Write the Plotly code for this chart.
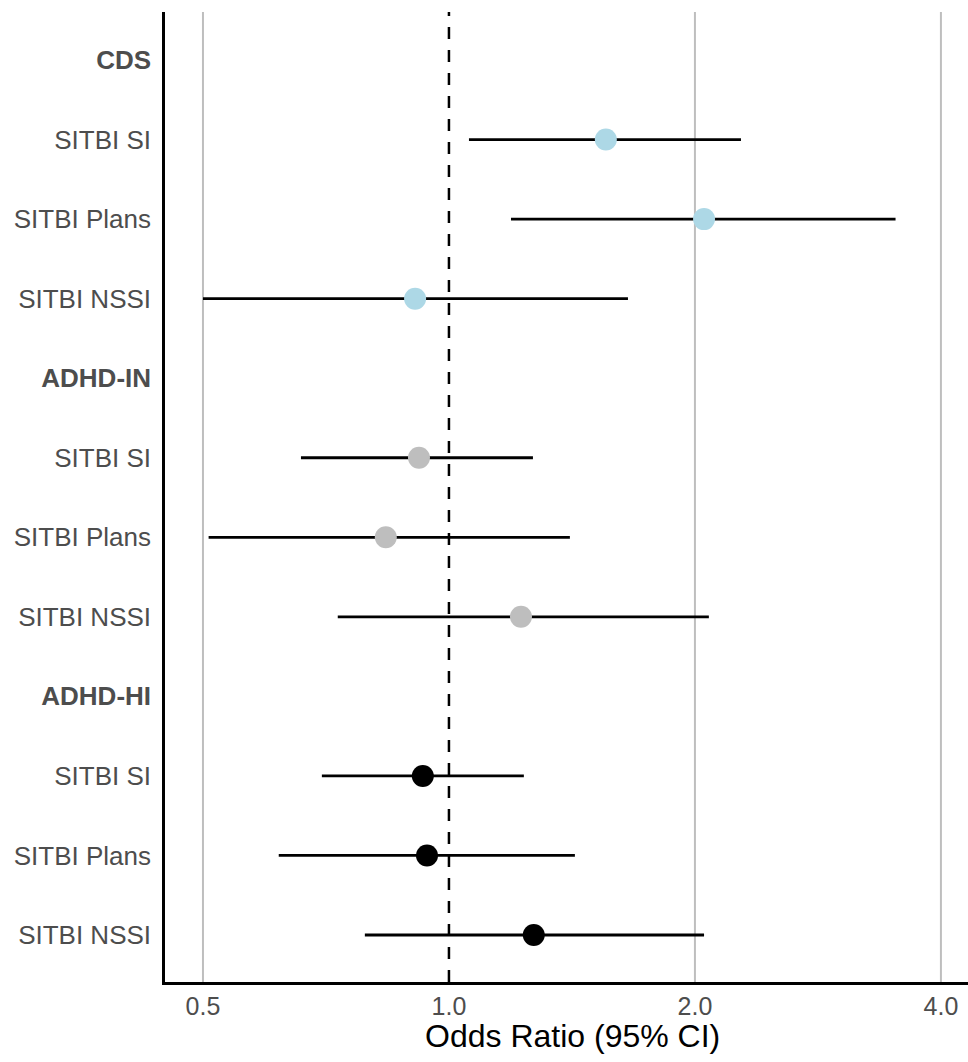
import plotly.graph_objects as go

# Data
labels = ["CDS", "SITBI SI", "SITBI Plans", "SITBI NSSI",
          "ADHD-IN", "SITBI SI", "SITBI Plans", "SITBI NSSI",
          "ADHD-HI", "SITBI SI", "SITBI Plans", "SITBI NSSI"]
is_header = [True, False, False, False, True, False, False, False, True, False, False, False]

groups = ["CDS", "ADHD-IN", "ADHD-HI"]
outcomes = ["SITBI SI", "SITBI Plans", "SITBI NSSI"]
odds_ratio = {
    "CDS":     [1.556, 2.052, 0.909],
    "ADHD-IN": [0.919, 0.837, 1.225],
    "ADHD-HI": [0.929, 0.940, 1.270],
}
ci_lower = {
    "CDS":     [1.058, 1.191, 0.500],
    "ADHD-IN": [0.659, 0.508, 0.731],
    "ADHD-HI": [0.699, 0.619, 0.789],
}
ci_upper = {
    "CDS":     [2.277, 3.520, 1.656],
    "ADHD-IN": [1.267, 1.406, 2.080],
    "ADHD-HI": [1.235, 1.426, 2.052],
}
colors = {"CDS": "#ADD8E6", "ADHD-IN": "#BEBEBE", "ADHD-HI": "#000000"}

x_ticks = [0.5, 1.0, 2.0, 4.0]
x_ticktext = ["0.5", "1.0", "2.0", "4.0"]
x_title = "Odds Ratio (95% CI)"

n = len(labels)
ypos = list(range(n, 0, -1))  # top row = n
ticktext = [f"<b>{l}</b>" if h else l for l, h in zip(labels, is_header)]

fig = go.Figure()

# CI lines
for gi, g in enumerate(groups):
    xs, ys = [], []
    for oi, o in enumerate(outcomes):
        row = gi * 4 + 1 + oi
        y = ypos[row]
        xs += [ci_lower[g][oi], ci_upper[g][oi], None]
        ys += [y, y, None]
    fig.add_trace(go.Scatter(x=xs, y=ys, mode="lines",
                             line=dict(color="black", width=2.8),
                             showlegend=False, hoverinfo="skip"))

# Points
for gi, g in enumerate(groups):
    ys = [ypos[gi * 4 + 1 + oi] for oi in range(len(outcomes))]
    fig.add_trace(go.Scatter(x=odds_ratio[g], y=ys, mode="markers",
                             marker=dict(color=colors[g], size=22, line=dict(width=0)),
                             name=g, showlegend=False))

# Grid lines (shapes) and reference line
for v in [0.5, 2.0, 4.0]:
    fig.add_shape(type="line", xref="x", yref="paper", x0=v, x1=v, y0=0, y1=1,
                  line=dict(color="#BEBEBE", width=2), layer="below")
fig.add_shape(type="line", xref="x", yref="paper", x0=1.0, x1=1.0, y0=0, y1=1,
              line=dict(color="black", width=2.5, dash="12px,11px"), layer="above")

# Axis title as annotation for exact placement
fig.add_annotation(text=x_title, xref="paper", yref="paper", x=0.508, y=-0.0557,
                   xanchor="center", yanchor="middle", showarrow=False,
                   font=dict(size=32, color="black"))

fig.update_layout(
    width=968, height=1062,
    margin=dict(l=165, r=0, t=12, b=80),
    plot_bgcolor="white", paper_bgcolor="white",
    font=dict(family="Liberation Sans, Arial, sans-serif"),
    showlegend=False,
)
fig.update_xaxes(
    type="log", range=[-0.3475, 0.6352],
    tickvals=x_ticks, ticktext=x_ticktext,
    showgrid=False, zeroline=False,
    showline=True, linecolor="black", linewidth=2.5,
    ticks="", tickfont=dict(size=25, color="#4D4D4D"),
    ticklabelstandoff=0,
)
fig.update_yaxes(
    range=[0.409, 12.604],
    tickvals=ypos, ticktext=ticktext,
    showgrid=False, zeroline=False,
    showline=True, linecolor="black", linewidth=2.5,
    ticks="", tickfont=dict(size=26, color="#4D4D4D"),
    ticklabelstandoff=6,
)

fig.write_html("out.html",
               config={"displayModeBar": False},
               post_script="document.body.style.margin='0';document.body.style.overflow='hidden';")
